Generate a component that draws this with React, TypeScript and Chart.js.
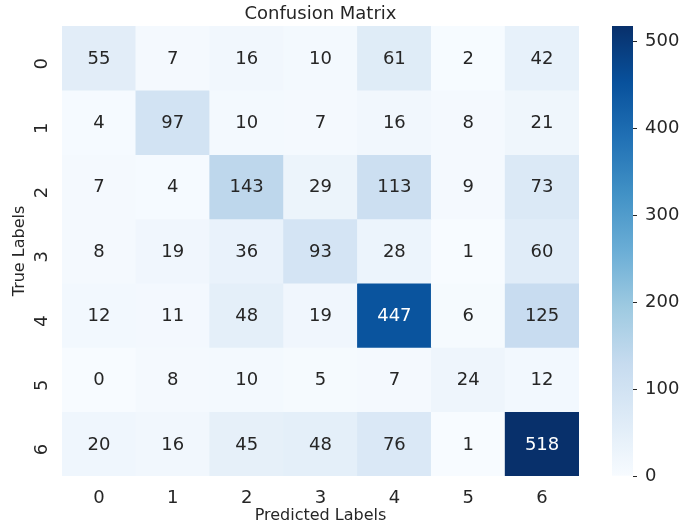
import React, { useEffect, useRef } from "react";
import { Chart, registerables } from "chart.js";

Chart.register(...registerables);

const predictedLabels = ["0", "1", "2", "3", "4", "5", "6"];
const trueLabels = [0, 1, 2, 3, 4, 5, 6];
const row0 = [55, 7, 16, 10, 61, 2, 42];
const row1 = [4, 97, 10, 7, 16, 8, 21];
const row2 = [7, 4, 143, 29, 113, 9, 73];
const row3 = [8, 19, 36, 93, 28, 1, 60];
const row4 = [12, 11, 48, 19, 447, 6, 125];
const row5 = [0, 8, 10, 5, 7, 24, 12];
const row6 = [20, 16, 45, 48, 76, 1, 518];
const rows = [row0, row1, row2, row3, row4, row5, row6];
const colorbarTicks = [0, 100, 200, 300, 400, 500];

const BLUES = [
  [247, 251, 255],
  [222, 235, 247],
  [198, 219, 239],
  [158, 202, 225],
  [107, 174, 214],
  [66, 146, 198],
  [33, 113, 181],
  [8, 81, 156],
  [8, 48, 107],
];

function blues(t: number): number[] {
  const x = Math.max(0, Math.min(1, t)) * (BLUES.length - 1);
  const i = Math.min(BLUES.length - 2, Math.floor(x));
  const f = x - i;
  const a = BLUES[i];
  const b = BLUES[i + 1];
  return [0, 1, 2].map((k) => a[k] + (b[k] - a[k]) * f);
}
function rgb(c: number[]) {
  return `rgb(${Math.round(c[0])},${Math.round(c[1])},${Math.round(c[2])})`;
}
function lum(c: number[]) {
  const f = (v: number) => {
    const s = v / 255;
    return s <= 0.03928 ? s / 12.92 : Math.pow((s + 0.055) / 1.055, 2.4);
  };
  return 0.2126 * f(c[0]) + 0.7152 * f(c[1]) + 0.0722 * f(c[2]);
}

const vmin = 0;
const vmax = Math.max(...rows.map((r) => Math.max(...r)));
const FONT = "'DejaVu Sans', sans-serif";
const TEXT = "#262626";

const annotatePlugin = {
  id: "annotate",
  afterDatasetsDraw(chart: any) {
    const ctx = chart.ctx;
    ctx.save();
    ctx.font = `18px ${FONT}`;
    ctx.textAlign = "center";
    ctx.textBaseline = "middle";
    chart.data.datasets.forEach((ds: any, di: number) => {
      const meta = chart.getDatasetMeta(di);
      meta.data.forEach((el: any, ci: number) => {
        const v = rows[di][ci];
        const c = blues((v - vmin) / (vmax - vmin));
        ctx.fillStyle = lum(c) < 0.408 ? "#ffffff" : TEXT;
        const p = el.getCenterPoint();
        ctx.fillText(String(v), p.x, p.y + 1);
      });
    });
    // title centred over the heatmap
    const a = chart.chartArea;
    ctx.fillStyle = TEXT;
    ctx.font = `18px ${FONT}`;
    ctx.textBaseline = "middle";
    ctx.fillText("Confusion Matrix", (a.left + a.right) / 2, 14);
    ctx.restore();
  },
};

export default function App() {
  const mainRef = useRef<HTMLCanvasElement>(null);
  const cbRef = useRef<HTMLCanvasElement>(null);

  useEffect(() => {
    const main = new Chart(mainRef.current!, {
      type: "bar",
      data: {
        labels: predictedLabels,
        datasets: rows.map((r, ri) => ({
          label: String(trueLabels[ri]),
          data: r.map(() => [trueLabels[ri] - 0.5, trueLabels[ri] + 0.5]),
          backgroundColor: r.map((v) => rgb(blues((v - vmin) / (vmax - vmin)))),
          borderWidth: 0,
          barPercentage: 1,
          categoryPercentage: 1,
          grouped: false,
        })) as any,
      },
      options: {
        responsive: false,
        animation: false,
        layout: { padding: { left: 0, right: 101, top: 26, bottom: 0 } },
        plugins: {
          legend: { display: false },
          tooltip: { enabled: false },
          title: { display: false },
        },
        scales: {
          x: {
            type: "category",
            grid: { display: false },
            border: { display: false },
            afterFit: (axis: any) => {
              axis.height = 53;
            },
            ticks: { color: TEXT, font: { family: FONT, size: 18 }, padding: 4 },
            title: {
              display: true,
              text: "Predicted Labels",
              color: TEXT,
              font: { family: FONT, size: 16 },
              padding: { top: 0, bottom: 4 },
            },
          },
          y: {
            type: "linear",
            min: -0.5,
            max: 6.5,
            reverse: true,
            grid: { display: false },
            border: { display: false },
            afterBuildTicks: (axis: any) => {
              axis.ticks = trueLabels.map((v) => ({ value: v }));
            },
            afterFit: (axis: any) => {
              axis.width = 62;
            },
            ticks: {
              color: TEXT,
              font: { family: FONT, size: 18 },
              minRotation: 90,
              maxRotation: 90,
              padding: 12,
              callback: (v: any) => String(v),
            },
            title: {
              display: true,
              text: "True Labels",
              color: TEXT,
              font: { family: FONT, size: 16 },
              padding: { top: 10, bottom: 0 },
            },
          },
        },
      },
      plugins: [annotatePlugin],
    });

    const cb = new Chart(cbRef.current!, {
      type: "bar",
      data: {
        labels: [""],
        datasets: [
          {
            data: [[vmin, vmax]] as any,
            borderWidth: 0,
            barPercentage: 1,
            categoryPercentage: 1,
            backgroundColor: (ctx: any) => {
              const area = ctx.chart.chartArea;
              if (!area) return rgb(BLUES[0]);
              const g = ctx.chart.ctx.createLinearGradient(0, area.bottom, 0, area.top);
              BLUES.forEach((c, i) => g.addColorStop(i / (BLUES.length - 1), rgb(c)));
              return g;
            },
          },
        ],
      },
      options: {
        responsive: false,
        animation: false,
        layout: { padding: { left: 612, right: 0, top: 26, bottom: 53 } },
        plugins: { legend: { display: false }, tooltip: { enabled: false }, title: { display: false } },
        scales: {
          x: { display: false },
          y: {
            position: "right",
            min: vmin,
            max: vmax,
            border: { display: false },
            grid: { drawOnChartArea: false, drawTicks: true, tickLength: 4, color: TEXT },
            afterBuildTicks: (axis: any) => {
              axis.ticks = colorbarTicks.map((v) => ({ value: v }));
            },
            afterFit: (axis: any) => {
              axis.width = 47;
            },
            ticks: { color: TEXT, font: { family: FONT, size: 18 }, padding: 8 },
          },
        },
      },
    });

    return () => {
      main.destroy();
      cb.destroy();
    };
  }, []);

  return (
    <div style={{ position: "fixed", left: 0, top: 0, width: 680, height: 529, background: "#fff" }}>
      <canvas ref={mainRef} width={680} height={529} style={{ position: "absolute", left: 0, top: 0 }} />
      <canvas ref={cbRef} width={680} height={529} style={{ position: "absolute", left: 0, top: 0 }} />
    </div>
  );
}
